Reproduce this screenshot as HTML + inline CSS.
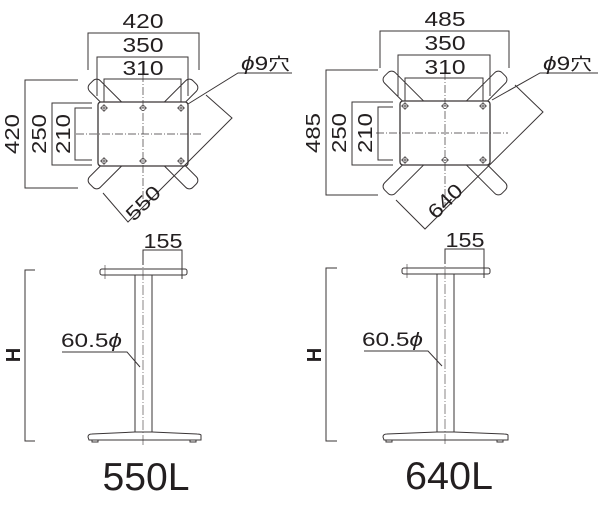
<!DOCTYPE html>
<html><head><meta charset="utf-8"><style>
html,body{margin:0;padding:0;background:#fff;}
svg{display:block}
text{font-family:"Liberation Sans","Noto Sans CJK JP",sans-serif;fill:#231f20}
</style></head><body>
<svg width="600" height="513" viewBox="0 0 600 513" xmlns="http://www.w3.org/2000/svg">
<g fill="none" stroke="#3a3536" stroke-width="1">
<rect x="70" y="126.5" width="146" height="15" rx="5" transform="rotate(45 143 134)" fill="#fff"/>
<rect x="70" y="126.5" width="146" height="15" rx="5" transform="rotate(-45 143 134)" fill="#fff"/>
<rect x="98" y="102" width="90" height="64" rx="3" fill="#fff" stroke-width="1.3"/>
<line x1="143" y1="74" x2="143" y2="202" stroke-dasharray="8,2,1,2" stroke-width="0.7"/>
<line x1="76" y1="134" x2="203" y2="134" stroke-dasharray="8,2,1,2" stroke-width="0.7"/>
<polyline points="88,70 88,33 199,33 199,70"/>
<polyline points="97,96 97,57 188,57 188,96"/>
<polyline points="104,102 104,79 181,79 181,102"/>
<polyline points="78,80 25,80 25,188 78,188"/>
<polyline points="92,103 52,103 52,165 92,165"/>
<polyline points="92,108 75,108 75,160 92,160"/>
<polyline points="103,193 128,222 232,118 206,95"/>
<polyline points="188,104 238,73 292,73"/>
<g stroke-width="0.7">
<circle cx="104" cy="108" r="2.5"/><circle cx="143" cy="108" r="2.5"/><circle cx="181" cy="108" r="2.5"/>
<circle cx="104" cy="161" r="2.5"/><circle cx="143" cy="161" r="2.5"/><circle cx="181" cy="161" r="2.5"/>
<path d="M100 108h8M104 104v8M139 108h8M177 108h8M181 104v8M100 161h8M104 157v8M139 161h8M177 161h8M181 157v8"/>
</g>

<rect x="362" y="125.5" width="166" height="15" rx="5" transform="rotate(45 445 133)" fill="#fff"/>
<rect x="362" y="125.5" width="166" height="15" rx="5" transform="rotate(-45 445 133)" fill="#fff"/>
<rect x="400" y="101" width="90" height="64" rx="3" fill="#fff" stroke-width="1.3"/>
<line x1="445" y1="72" x2="445" y2="208" stroke-dasharray="8,2,1,2" stroke-width="0.7"/>
<line x1="376" y1="133" x2="508" y2="133" stroke-dasharray="8,2,1,2" stroke-width="0.7"/>
<polyline points="380,68 380,31 509,31 509,68"/>
<polyline points="398,96 398,55 490,55 490,96"/>
<polyline points="405,101 405,78 483,78 483,101"/>
<polyline points="378,70 326,70 326,195 378,195"/>
<polyline points="393,102 352,102 352,165 393,165"/>
<polyline points="393,107 378,107 378,160 393,160"/>
<polyline points="396,200 425,229 543,112 515,85"/>
<polyline points="492,100 540,73 598,73"/>
<g stroke-width="0.7">
<circle cx="405" cy="106" r="2.5"/><circle cx="445" cy="106" r="2.5"/><circle cx="483" cy="106" r="2.5"/>
<circle cx="405" cy="160" r="2.5"/><circle cx="445" cy="160" r="2.5"/><circle cx="483" cy="160" r="2.5"/>
<path d="M401 106h8M405 102v8M441 106h8M479 106h8M483 102v8M401 160h8M405 156v8M441 160h8M479 160h8M483 156v8"/>
</g>

<rect x="100" y="269" width="87" height="6" rx="2"/>
<line x1="105" y1="265" x2="105" y2="279" stroke-width="0.6"/>
<polyline points="143,265 143,250 182,250 182,279"/>
<rect x="135" y="275" width="17" height="157"/>
<path d="M135 432 L92 434 Q88 434 88 437 L89 440 L201 440 L201 435 Q200 434 197 434 L152 432"/>
<path d="M92 440v2h6v-2M190 440v2h6v-2"/>
<line x1="143" y1="255" x2="143" y2="446" stroke-dasharray="10,2,1,2" stroke-width="0.6"/>
<polyline points="35,270 25,270 25,441 35,441"/>
<polyline points="62,352 127,352 140,367"/>

<rect x="402" y="268" width="88" height="6" rx="2"/>
<line x1="407" y1="264" x2="407" y2="278" stroke-width="0.6"/>
<polyline points="445,264 445,249 484,249 484,278"/>
<rect x="437" y="274" width="17" height="158"/>
<path d="M437 432 L387 434 Q383 434 383 437 L384 440 L508 440 L508 435 Q507 434 504 434 L454 432"/>
<path d="M386 440v2h6v-2M497 440v2h6v-2"/>
<line x1="445" y1="254" x2="445" y2="446" stroke-dasharray="10,2,1,2" stroke-width="0.6"/>
<polyline points="337,268 326,268 326,441 337,441"/>
<polyline points="364,351 428,351 442,366"/>
</g>

<g font-size="20" text-anchor="middle">
<text x="143" y="28" textLength="41" lengthAdjust="spacingAndGlyphs">420</text>
<text x="143" y="52" textLength="41" lengthAdjust="spacingAndGlyphs">350</text>
<text x="143" y="75" textLength="41" lengthAdjust="spacingAndGlyphs">310</text>
<text transform="translate(19,134) rotate(-90)" textLength="40" lengthAdjust="spacingAndGlyphs">420</text>
<text transform="translate(46,134) rotate(-90)" textLength="40" lengthAdjust="spacingAndGlyphs">250</text>
<text transform="translate(70,134) rotate(-90)" textLength="40" lengthAdjust="spacingAndGlyphs">210</text>
<text transform="translate(148,208) rotate(-45)" textLength="40" lengthAdjust="spacingAndGlyphs">550</text>
<text x="163" y="248" textLength="39" lengthAdjust="spacingAndGlyphs">155</text>

<text x="445" y="26" textLength="41" lengthAdjust="spacingAndGlyphs">485</text>
<text x="445" y="50" textLength="41" lengthAdjust="spacingAndGlyphs">350</text>
<text x="445" y="74" textLength="41" lengthAdjust="spacingAndGlyphs">310</text>
<text transform="translate(320,133) rotate(-90)" textLength="40" lengthAdjust="spacingAndGlyphs">485</text>
<text transform="translate(346,133) rotate(-90)" textLength="40" lengthAdjust="spacingAndGlyphs">250</text>
<text transform="translate(372,133) rotate(-90)" textLength="40" lengthAdjust="spacingAndGlyphs">210</text>
<text transform="translate(450,206) rotate(-45)" textLength="40" lengthAdjust="spacingAndGlyphs">640</text>
<text x="465" y="247" textLength="39" lengthAdjust="spacingAndGlyphs">155</text>
</g>
<g font-size="19">
<text x="241" y="70" textLength="49" lengthAdjust="spacingAndGlyphs"><tspan font-style="italic">ϕ</tspan>9<tspan font-size="17">穴</tspan></text>
<text x="543" y="70" textLength="49" lengthAdjust="spacingAndGlyphs"><tspan font-style="italic">ϕ</tspan>9<tspan font-size="17">穴</tspan></text>
<text x="61" y="347" textLength="61" lengthAdjust="spacingAndGlyphs">60.5<tspan font-style="italic">ϕ</tspan></text>
<text x="362" y="346" textLength="61" lengthAdjust="spacingAndGlyphs">60.5<tspan font-style="italic">ϕ</tspan></text>
</g>
<g font-size="20" font-weight="bold" text-anchor="middle">
<text transform="translate(20,355) rotate(-90)">H</text>
<text transform="translate(321,355) rotate(-90)">H</text>
</g>
<g font-size="39" text-anchor="middle">
<text x="146" y="490" textLength="87" lengthAdjust="spacingAndGlyphs">550L</text>
<text x="449" y="489" textLength="88" lengthAdjust="spacingAndGlyphs">640L</text>
</g>
</svg>
</body></html>
